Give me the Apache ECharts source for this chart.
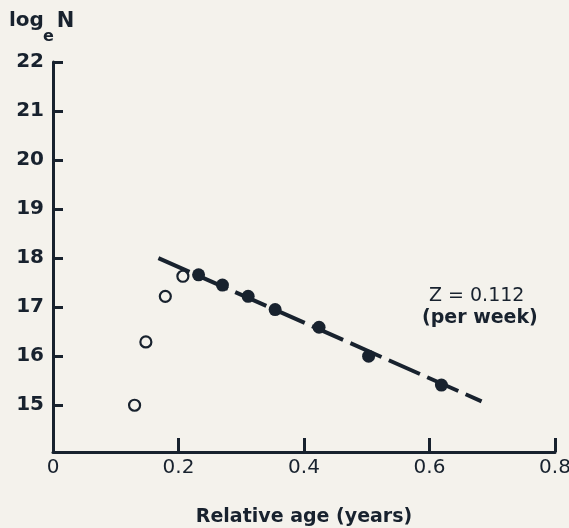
<!DOCTYPE html>
<html>
<head>
<meta charset="utf-8">
<script src="https://cdn.jsdelivr.net/npm/echarts@6/dist/echarts.min.js"></script>
<style>
html,body{margin:0;padding:0;background:#f4f2ec;}
#chart{width:569px;height:528px;}
</style>
</head>
<body>
<div id="chart"></div>
<script>
// open circles (early ages, not used in fit)
var openAge = [0.130, 0.148, 0.179, 0.207];
var openLogN = [15.0, 16.29, 17.22, 17.63];
// filled circles (used in fit)
var fillAge = [0.232, 0.270, 0.311, 0.354, 0.424, 0.503, 0.619];
var fillLogN = [17.66, 17.45, 17.22, 16.95, 16.59, 16.0, 15.41];
// regression line ends
var fitAge = [0.168, 0.683];
var fitLogN = [18.0, 15.08];
var yTicks = [15, 16, 17, 18, 19, 20, 21, 22];

function pairs(xs, ys){
	var out = [];
	for (var i = 0; i < xs.length; i++) out.push([xs[i], ys[i]]);
	return out;
}

var ink = '#18222e';
var chart = echarts.init(document.getElementById('chart'));
var option = {
	backgroundColor: '#f4f2ec',
	animation: false,
	title: {
		text: '{a|log}{b|e}{c|N}',
		left: 4, top: 6,
		textStyle: {
			rich: {
				a: {fontSize: 20, fontWeight: 'bold', color: ink, fontFamily: 'DejaVu Sans', verticalAlign: 'top', lineHeight: 34},
				b: {fontSize: 16, fontWeight: 'bold', color: ink, fontFamily: 'DejaVu Sans', verticalAlign: 'bottom', lineHeight: 34, padding: [0, 0, 0, -1]},
				c: {fontSize: 21, fontWeight: 'bold', color: ink, fontFamily: 'DejaVu Sans', verticalAlign: 'top', lineHeight: 34, padding: [0, 0, 0, 3]}
			}
		}
	},
	grid: {left: 53, right: 14, top: 62, bottom: 86, outerBoundsMode: 'none', containLabel: false},
	xAxis: {
		type: 'value', min: 0, max: 0.8, interval: 0.2,
		offset: 10,
		splitLine: {show: false},
		axisLine: {lineStyle: {color: ink, width: 3}},
		axisTick: {inside: true, length: 14, lineStyle: {color: ink, width: 3}},
		axisLabel: {color: ink, fontSize: 20, fontWeight: 500, fontFamily: 'DejaVu Sans', margin: 6, showMaxLabel: true},
		name: 'Relative age (years)',
		nameLocation: 'middle', nameGap: 56,
		nameTextStyle: {color: ink, fontSize: 19, fontWeight: 'bold', fontFamily: 'DejaVu Sans'}
	},
	yAxis: {
		type: 'value', min: 14.25, max: 22,
		splitLine: {show: false},
		axisLine: {lineStyle: {color: ink, width: 3}},
		axisTick: {inside: true, length: 10, customValues: yTicks, lineStyle: {color: ink, width: 3}},
		axisLabel: {color: ink, fontSize: 20, fontWeight: 'bold', fontFamily: 'DejaVu Sans', margin: 9, customValues: yTicks}
	},
	graphic: [
		{type: 'text', left: 429, top: 287, style: {text: 'Z = 0.112', fill: ink, font: '500 19px "DejaVu Sans"'}},
		{type: 'text', left: 422, top: 309, style: {text: '(per week)', fill: ink, font: 'bold 19px "DejaVu Sans"'}}
	],
	series: [
		{
			type: 'line', data: pairs(fitAge, fitLogN), symbol: 'none', z: 1,
			lineStyle: {color: ink, width: 4, type: [34, 8]}
		},
		{
			type: 'scatter', data: pairs(fillAge, fillLogN), symbol: 'circle', symbolSize: 13, z: 3,
			itemStyle: {color: ink, opacity: 1}
		},
		{
			type: 'scatter', data: pairs(openAge, openLogN), symbol: 'circle', symbolSize: 11, z: 3,
			itemStyle: {color: '#f4f2ec', borderColor: ink, borderWidth: 2.2, opacity: 1}
		}
	]
};
chart.setOption(option);
</script>
</body>
</html>
